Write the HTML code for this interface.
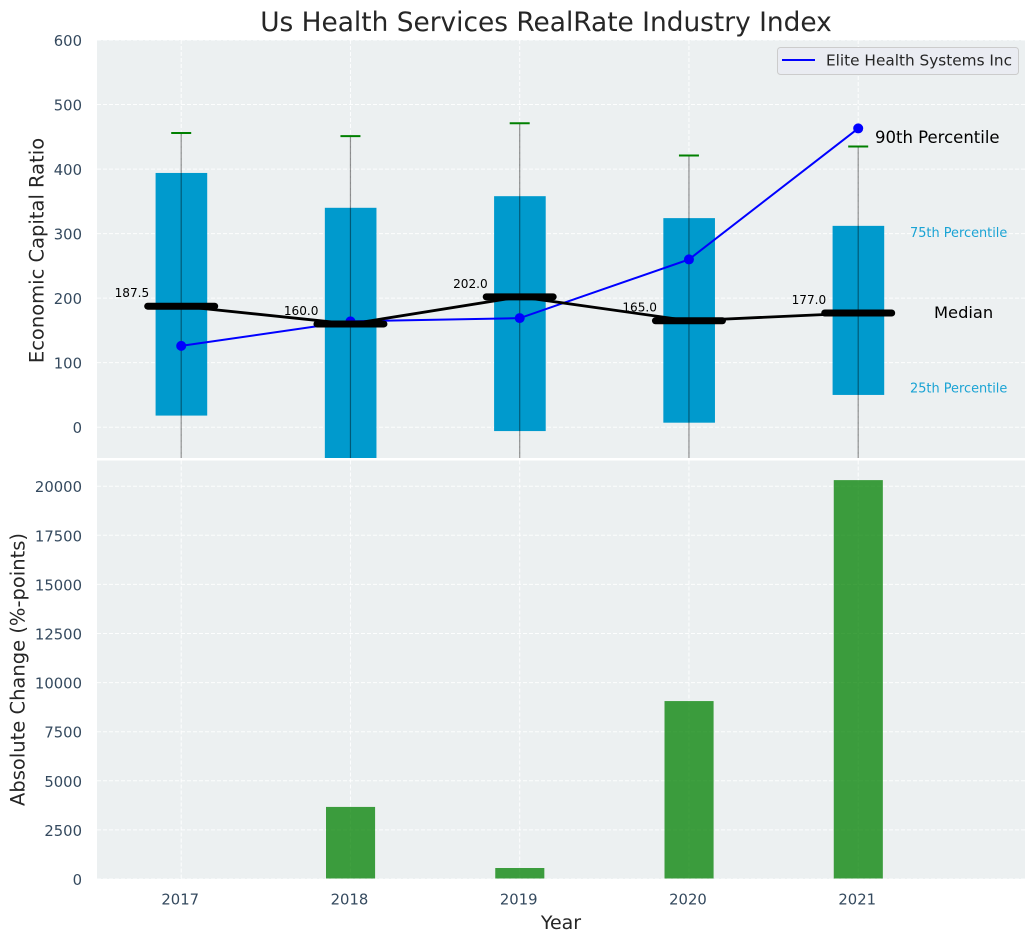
<!DOCTYPE html>
<html lang="en">
<head>
<meta charset="utf-8">
<title>Us Health Services RealRate Industry Index</title>
<style>
html,body{margin:0;padding:0;background:#fff;width:1035px;height:942px;overflow:hidden}
svg{display:block;font-family:"DejaVu Sans","Liberation Sans",sans-serif}
</style>
</head>
<body>
<svg id="chart" xmlns="http://www.w3.org/2000/svg" width="1035" height="942" viewBox="0 0 1035 942"></svg>
<script>
const years = [2017, 2018, 2019, 2020, 2021];
const p25 = [18, -60, -6, 7, 50];
const p75 = [394, 340, 358, 324, 312];
const p90 = [456, 451, 471, 421, 435];
const p10 = [-120, -130, -110, -100, -90];
const medians = [187.5, 160.0, 202.0, 165.0, 177.0];
const company = [126, 164, 169, 260, 463];
const absChange = [0, 3670, 560, 9060, 20310];
const topTicks = [0, 100, 200, 300, 400, 500, 600];
const bottomTicks = [0, 2500, 5000, 7500, 10000, 12500, 15000, 17500, 20000];

const NS = 'http://www.w3.org/2000/svg';
const svg = document.getElementById('chart');
const L = 97, R = 1025;
const T1 = 40, B1 = 458, T2 = 460.5, B2 = 879;

function xScale(v) { return 181.2 + (v - 2017) * 169.25; }
function yTop(v) { return 427.2 - v * 0.6453; }
function yBottom(v) { return 879 - v * 0.01964; }

function make(tag, attrs, parent, text) {
  const el = document.createElementNS(NS, tag);
  for (const k in attrs) el.setAttribute(k, attrs[k]);
  if (text !== undefined) el.textContent = text;
  (parent || svg).appendChild(el);
  return el;
}
function fmt(v) { return v.toFixed(1); }

const defs = make('defs', {});
const clip = make('clipPath', { id: 'top-clip' }, defs);
make('rect', { x: L, y: T1, width: R - L, height: B1 - T1 }, clip);

/* title */
const title = make('text', { x: 546, y: 31, 'text-anchor': 'middle', 'font-size': 26.4, fill: '#262626' }, svg, 'Us Health Services RealRate Industry Index');



/* axes backgrounds */
const bgTop = make('rect', { x: L, y: T1, width: R - L, height: B1 - T1, fill: '#ecf0f1' });


const bgBottom = make('rect', { x: L, y: T2, width: R - L, height: B2 - T2, fill: '#ecf0f1' });



/* grid and ticks */
const gridStyle = { stroke: '#ffffff', 'stroke-width': 1, 'stroke-dasharray': '4 2', 'stroke-opacity': 0.9 };
years.forEach(function (yr) {
  const x = xScale(yr);
  const g1 = make('line', Object.assign({ x1: x, x2: x, y1: T1, y2: B1 }, gridStyle));
  
  
  const g2 = make('line', Object.assign({ x1: x, x2: x, y1: T2, y2: B2 }, gridStyle));
  
  
  const lab = make('text', { x: x - 1, y: 904.5, 'text-anchor': 'middle', 'font-size': 14.8, fill: '#34495e' }, svg, String(yr));
  
  
});
topTicks.forEach(function (v) {
  const y = yTop(v);
  const g = make('line', Object.assign({ x1: L, x2: R, y1: y, y2: y }, gridStyle));
  
  
  const lab = make('text', { x: 82, y: y + 6, 'text-anchor': 'end', 'font-size': 14.8, fill: '#34495e' }, svg, String(v));
  
  
});
bottomTicks.forEach(function (v) {
  const y = yBottom(v);
  const g = make('line', Object.assign({ x1: L, x2: R, y1: y, y2: y }, gridStyle));
  
  
  const lab = make('text', { x: 82, y: y + 6, 'text-anchor': 'end', 'font-size': 14.8, fill: '#34495e' }, svg, String(v));
  
  
});

/* top panel */
const topG = make('g', { 'clip-path': 'url(#top-clip)' });



years.forEach(function (yr, i) {
  const x = xScale(yr), w = 0.305 * 169.25;
  const bar = make('rect', {
    x: x - w / 2 + 0.2, y: yTop(p75[i]), width: w, height: yTop(p25[i]) - yTop(p75[i]),
    fill: '#009acd'
  }, topG);
  
  
});
years.forEach(function (yr, i) {
  const x = xScale(yr);
  const wh = make('line', { x1: x, x2: x, y1: yTop(p90[i]), y2: yTop(p10[i]), stroke: '#000', 'stroke-opacity': 0.42, 'stroke-width': 1.2 }, topG);
  
  
  const cap = make('line', { x1: x - 10, x2: x + 10, y1: yTop(p90[i]), y2: yTop(p90[i]), stroke: '#008000', 'stroke-width': 2 }, topG);
  
  
});

const companyPts = years.map(function (yr, i) { return xScale(yr) + ',' + yTop(company[i]); }).join(' ');
const companyLine = make('polyline', { points: companyPts, fill: 'none', stroke: '#0000ff', 'stroke-width': 2 }, topG);


years.forEach(function (yr, i) {
  const pt = make('circle', { cx: xScale(yr), cy: yTop(company[i]), r: 5, fill: '#0000ff' }, topG);
  
  
});

const medianPts = years.map(function (yr, i) { return xScale(yr) + ',' + yTop(medians[i]); }).join(' ');
const medianLine = make('polyline', { points: medianPts, fill: 'none', stroke: '#000', 'stroke-width': 2.8 }, topG);


years.forEach(function (yr, i) {
  const x = xScale(yr), y = yTop(medians[i]);
  const m = make('line', { x1: x - 33.5, x2: x + 33.5, y1: y, y2: y, stroke: '#000', 'stroke-width': 7, 'stroke-linecap': 'round' }, topG);
  
  
  const lab = make('text', { x: x - 32, y: y - 9, 'text-anchor': 'end', 'font-size': 12.1, fill: '#000' }, topG, fmt(medians[i]));
  
  
});

/* annotations */
const a90 = make('text', { x: 875, y: 143, 'font-size': 16.5, fill: '#000' }, svg, '90th Percentile');


const a75 = make('text', { x: 910, y: 237, 'font-size': 12.9, fill: '#1aa3d4' }, svg, '75th Percentile');


const aMed = make('text', { x: 934, y: 318, 'font-size': 16.3, fill: '#000' }, svg, 'Median');


const a25 = make('text', { x: 910, y: 392.5, 'font-size': 12.9, fill: '#1aa3d4' }, svg, '25th Percentile');



/* legend */
const legend = make('g', {});


make('rect', { x: 777.5, y: 47.5, width: 241, height: 27, rx: 3, fill: '#eaecf2', stroke: '#cccccc', 'stroke-width': 1 }, legend);
const legendLine = make('line', { x1: 782, x2: 815, y1: 60, y2: 60, stroke: '#0000ff', 'stroke-width': 2 }, legend);


const legendText = make('text', { x: 826, y: 65.5, 'font-size': 15.3, fill: '#262626' }, legend, 'Elite Health Systems Inc');



/* bottom panel bars */
years.forEach(function (yr, i) {
  const x = xScale(yr), w = 0.29 * 169.25;
  const y = yBottom(absChange[i]);
  const bar = make('rect', { x: x - w / 2 + 0.1, y: y, width: w, height: B2 - y - 0.5, fill: '#008000', 'fill-opacity': 0.75 });
  
  
});

/* axis titles */
const yl1 = make('text', { transform: 'translate(43.5,250.5) rotate(-90)', 'text-anchor': 'middle', 'font-size': 19.5, fill: '#262626' }, svg, 'Economic Capital Ratio');


const yl2 = make('text', { transform: 'translate(24.5,669.5) rotate(-90)', 'text-anchor': 'middle', 'font-size': 19.5, fill: '#262626' }, svg, 'Absolute Change (%-points)');


const xl = make('text', { x: 561, y: 929, 'text-anchor': 'middle', 'font-size': 19, fill: '#262626' }, svg, 'Year');


</script>
</body>
</html>
